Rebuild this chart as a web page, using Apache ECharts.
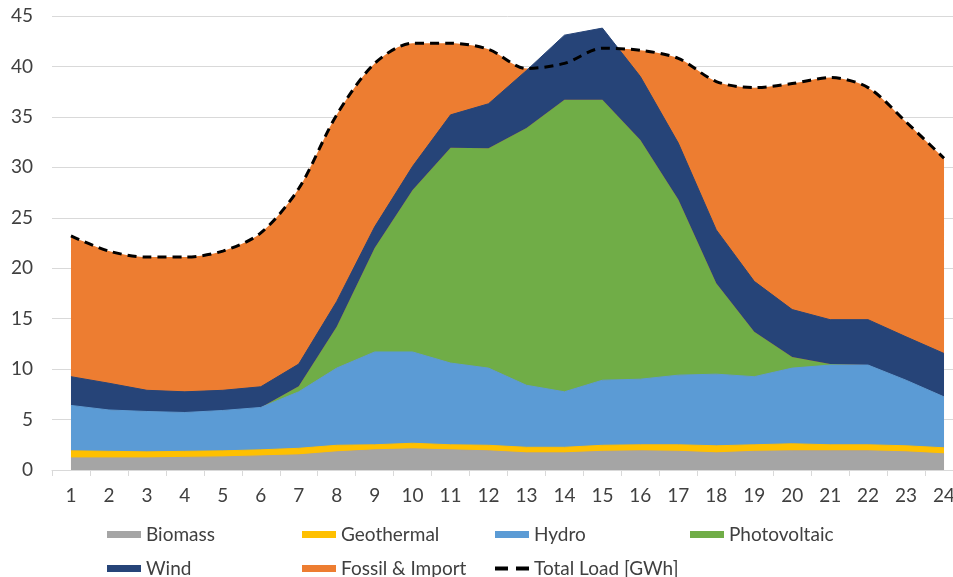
<!DOCTYPE html>
<html>
<head>
<meta charset="utf-8">
<script src="https://cdn.jsdelivr.net/npm/echarts@6/dist/echarts.min.js"></script>
<style>
html,body{margin:0;padding:0;background:#fff;overflow:hidden;width:953px;height:577px;}
#chart{width:963px;height:577px;}
</style>
</head>
<body>
<div id="chart"></div>
<script>
const hours = ['1','2','3','4','5','6','7','8','9','10','11','12','13','14','15','16','17','18','19','20','21','22','23','24'];
const yTicks = [0,5,10,15,20,25,30,35,40,45];
const biomass      = [1.2,1.2,1.2,1.25,1.3,1.4,1.5,1.8,2.0,2.1,2.0,1.9,1.7,1.7,1.85,1.9,1.85,1.7,1.85,1.9,1.9,1.9,1.8,1.6];
const geothermal   = [0.7,0.65,0.6,0.6,0.6,0.6,0.65,0.65,0.5,0.55,0.5,0.55,0.55,0.55,0.6,0.6,0.65,0.7,0.65,0.7,0.6,0.6,0.6,0.6];
const hydro        = [4.5,4.1,4.0,3.85,4.0,4.2,5.6,7.65,9.2,9.05,8.1,7.65,6.15,5.5,6.45,6.5,6.9,7.1,6.75,7.5,7.9,7.9,6.5,5.05];
const photovoltaic = [0,0,0,0,0,0,0.55,4.1,10.3,16.05,21.35,21.8,25.5,28.95,27.8,23.7,17.4,9.0,4.45,1.1,0.1,0,0,0];
const wind         = [2.85,2.65,2.1,2.05,2.0,2.05,2.2,2.5,2.1,2.35,3.25,4.4,5.7,6.4,7.1,6.3,5.6,5.3,5.0,4.7,4.4,4.5,4.3,4.3];
// Fossil & Import fills the gap between the renewables and the total load (drawn behind them)
const totalLoad    = [23.2,21.7,21.1,21.1,21.7,23.5,27.9,35.2,40.3,42.3,42.3,41.7,39.8,40.3,41.8,41.6,40.8,38.5,37.9,38.3,38.9,37.9,34.5,30.9];

const FONT = 'Lato';
const SMOOTH = 0.3;
const chart = echarts.init(document.getElementById('chart'), null, {renderer: 'canvas'});

function area(name, data, color, edge) {
  return {
    name: name, type: 'line', stack: 'renew', data: data,
    symbol: 'none', showSymbol: false,
    lineStyle: {width: edge, color: color},
    itemStyle: {color: color},
    areaStyle: {color: color, opacity: 1},
    emphasis: {disabled: true},
    z: 3
  };
}

function legendItem(item, left, top) {
  return {
    data: [item], left: left, top: top, padding: 0,
    itemWidth: 34, itemHeight: 7, icon: 'rect',
    textStyle: {fontFamily: FONT, fontSize: 19, color: '#404040'},
    selectedMode: false
  };
}

chart.setOption({
  animation: false,
  backgroundColor: '#ffffff',
  grid: {left: 52, top: 16, right: 0, bottom: 107, containLabel: false},
  xAxis: {
    type: 'category', data: hours, boundaryGap: true,
    axisLine: {show: true, lineStyle: {color: '#d9d9d9', width: 1}},
    axisTick: {show: true, length: 6, lineStyle: {color: '#d9d9d9'}},
    axisLabel: {fontFamily: FONT, fontSize: 19, color: '#404040', margin: 16},
    splitLine: {show: false}
  },
  yAxis: {
    type: 'value', min: yTicks[0], max: yTicks[yTicks.length-1], interval: 5,
    axisLine: {show: false}, axisTick: {show: false},
    axisLabel: {fontFamily: FONT, fontSize: 19, color: '#404040', margin: 19},
    splitLine: {show: true, lineStyle: {color: '#d9d9d9', width: 1}}
  },
  legend: [
    legendItem('Biomass', 107, 525),
    legendItem('Geothermal', 302, 525),
    legendItem('Hydro', 495, 525),
    legendItem('Photovoltaic', 690, 525),
    legendItem('Wind', 107, 559),
    legendItem('Fossil & Import', 302, 559),
    legendItem({name: 'Total Load [GWh]', icon: 'path://M0,0 L13,0 L13,4 L0,4 Z M21,0 L34,0 L34,4 L21,4 Z'}, 495, 559)
  ],
  series: [
    {
      name: 'Fossil & Import', type: 'line', data: totalLoad,
      symbol: 'none', showSymbol: false, smooth: SMOOTH,
      lineStyle: {width: 0, color: '#ed7d31'},
      itemStyle: {color: '#ed7d31'},
      areaStyle: {color: '#ed7d31', opacity: 1},
      emphasis: {disabled: true},
      z: 2
    },
    area('Biomass', biomass, '#a5a5a5', 1),
    area('Geothermal', geothermal, '#ffc000', 1),
    area('Hydro', hydro, '#5b9bd5', 1),
    area('Photovoltaic', photovoltaic, '#70ad47', 0),
    area('Wind', wind, '#264478', 1),
    {
      name: 'Total Load [GWh]', type: 'line', data: totalLoad,
      symbol: 'none', showSymbol: false, smooth: SMOOTH,
      lineStyle: {color: '#000000', width: 3, type: [9, 6]},
      itemStyle: {color: '#000000'},
      emphasis: {disabled: true},
      z: 5
    }
  ]
});
</script>
</body>
</html>
